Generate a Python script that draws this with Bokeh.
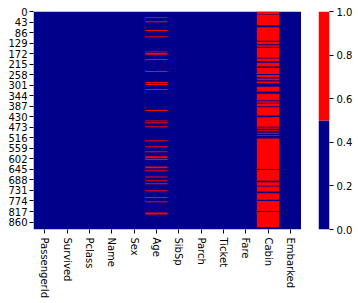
from bokeh.plotting import figure
from bokeh.layouts import row
from bokeh.models import (Range1d, FixedTicker, LinearColorMapper,
                          PrintfTickFormatter, ColumnDataSource, LinearAxis)
from bokeh.embed import file_html
from bokeh.resources import INLINE

# ---- data -------------------------------------------------------------
columns = ["PassengerId", "Survived", "Pclass", "Name", "Sex", "Age",
           "SibSp", "Parch", "Ticket", "Fare", "Cabin", "Embarked"]
n_rows = 891
row_tick_labels = [0, 43, 86, 129, 172, 215, 258, 301, 344, 387, 430, 473,
                   516, 559, 602, 645, 688, 731, 774, 817, 860]
colorbar_ticks = [0.0, 0.2, 0.4, 0.6, 0.8, 1.0]

# rows (start, end) where Age is missing (as visible in the picture)
age_missing = [(23, 27), (40, 44), (76, 80), (101, 105), (163, 167), (170, 177),
               (194, 198), (243, 247), (288, 292), (296, 300), (317, 321),
               (403, 407), (445, 449), (453, 457), (469, 473), (526, 530),
               (551, 555), (571, 575), (592, 600), (603, 607), (634, 641),
               (649, 653), (674, 678), (690, 694), (702, 706), (731, 735),
               (758, 762), (776, 780), (822, 830)]
# rows (start, end) where Cabin is present (everything else missing)
cabin_present = [(10, 12), (56, 64), (120, 124), (134, 138), (144, 148),
                 (189, 192), (203, 209), (225, 230), (255, 260), (269, 274),
                 (281, 286), (293, 308), (327, 336), (363, 367), (373, 376),
                 (387, 391), (425, 432), (471, 474), (479, 485), (489, 496),
                 (500, 505), (508, 519), (644, 648), (692, 698), (712, 715),
                 (736, 743), (769, 775), (815, 819), (882, 891)]


def complement(intervals, n):
    out, start = [], 0
    for a, b in intervals:
        if a > start:
            out.append((start, a))
        start = b
    if start < n:
        out.append((start, n))
    return out


missing = {"Age": age_missing, "Cabin": complement(cabin_present, n_rows)}

# ---- style ------------------------------------------------------------
NAVY = "#00008B"
RED = "#FF0000"
FONT = "DejaVu Sans"
mapper = LinearColorMapper(palette=[NAVY, RED], low=0, high=1)


def style_axis(ax, standoff=3):
    ax.axis_line_color = None
    ax.minor_tick_line_color = None
    ax.major_tick_in = 0
    ax.major_tick_out = 4
    ax.major_tick_line_color = "black"
    ax.major_label_standoff = standoff
    ax.major_label_text_font = FONT
    ax.major_label_text_font_size = "10px"
    ax.major_label_text_color = "black"


# ---- heatmap figure ---------------------------------------------------
p = figure(frame_width=268, frame_height=218, output_backend="svg",
           toolbar_location=None,
           x_range=Range1d(0, len(columns)), y_range=Range1d(n_rows, 0),
           min_border_left=33, min_border_top=11, min_border_right=0,
           min_border_bottom=0)
p.outline_line_color = None
p.grid.visible = False

base = ColumnDataSource(dict(left=[0], right=[len(columns)], top=[0],
                             bottom=[n_rows], v=[0]))
p.quad(left="left", right="right", top="top", bottom="bottom", source=base,
       fill_color={"field": "v", "transform": mapper}, line_color=None)

L, R, T, B, V = [], [], [], [], []
for ci, col in enumerate(columns):
    for a, b in missing.get(col, []):
        L.append(ci); R.append(ci + 1); T.append(a); B.append(b); V.append(1)
miss_src = ColumnDataSource(dict(left=L, right=R, top=T, bottom=B, v=V))
p.quad(left="left", right="right", top="top", bottom="bottom", source=miss_src,
       fill_color={"field": "v", "transform": mapper}, line_color=None)

p.xaxis.ticker = FixedTicker(ticks=[i + 0.5 for i in range(len(columns))])
p.xaxis.major_label_overrides = {i + 0.5: c for i, c in enumerate(columns)}
p.xaxis.major_label_orientation = "vertical"
p.yaxis.ticker = FixedTicker(ticks=[r + 0.5 for r in row_tick_labels])
p.yaxis.major_label_overrides = {r + 0.5: str(r) for r in row_tick_labels}
style_axis(p.xaxis, 4)
style_axis(p.yaxis, 2)

# ---- colour bar figure --------------------------------------------------
cbf = figure(frame_width=11, frame_height=218, output_backend="svg",
             toolbar_location=None, x_range=Range1d(0, 1),
             y_range=Range1d(mapper.low, mapper.high),
             min_border_left=17, min_border_top=11, min_border_right=0,
             min_border_bottom=12, x_axis_location=None, y_axis_location=None)
cbf.outline_line_color = None
cbf.grid.visible = False
n_col = len(mapper.palette)
step = (mapper.high - mapper.low) / n_col
cb_src = ColumnDataSource(dict(
    bottom=[mapper.low + i * step for i in range(n_col)],
    top=[mapper.low + (i + 1) * step for i in range(n_col)],
    v=[mapper.low + (i + 0.5) * step for i in range(n_col)]))
cbf.quad(left=0, right=1, bottom="bottom", top="top", source=cb_src,
         fill_color={"field": "v", "transform": mapper}, line_color=None)
cax = LinearAxis(ticker=FixedTicker(ticks=colorbar_ticks),
                 formatter=PrintfTickFormatter(format="%.1f"))
style_axis(cax, 3)
cbf.add_layout(cax, "right")

layout = row(p, cbf)
open("out.html", "w").write(file_html(layout, INLINE))
